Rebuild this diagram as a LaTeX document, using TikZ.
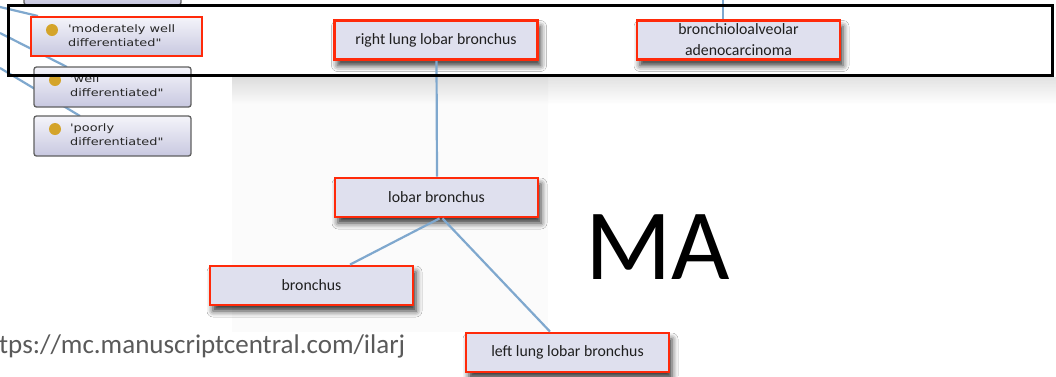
\documentclass[tikz,border=0pt]{standalone}
\usepackage{fontspec}
\setmainfont{Carlito}
\newfontfamily\lgfont[FakeStretch=1.25]{DejaVu Sans}
\usetikzlibrary{shadows.blur}
\definecolor{redc}{HTML}{FF2A0A}
\definecolor{boxc}{HTML}{DFE0EE}
\definecolor{linec}{HTML}{7FA8CE}
\definecolor{goldc}{HTML}{D4A42A}
\definecolor{urlc}{HTML}{5A5A5A}
\definecolor{lbtop}{HTML}{F4F4FA}
\definecolor{lbbot}{HTML}{C8C8E0}
\tikzset{
  x=1pt,y=-1pt,
  redbox/.style={draw=redc, line width=2.8pt, fill=boxc, rectangle, inner sep=0pt,
    minimum width=203pt, minimum height=39pt, align=center,
    font=\fontsize{15.8}{21}\selectfont, text=black!88,
    blur shadow={shadow xshift=3pt, shadow yshift=-6pt, shadow blur radius=6pt, shadow opacity=80}},
  leftbox/.style={draw=gray!75!black, line width=1.3pt, rounded corners=2.5pt,
    top color=lbtop, bottom color=lbbot, rectangle, inner sep=0pt,
    minimum width=157pt, minimum height=40pt},
  leftred/.style={draw=redc, line width=2.8pt, top color=lbtop, bottom color=lbbot,
    rectangle, inner sep=0pt, minimum width=171pt, minimum height=39pt},
  conn/.style={draw=linec, line width=2.2pt},
  ltext/.style={anchor=north west, inner sep=0pt, align=left, text=black!85,
    font=\lgfont\fontsize{10.3}{14}\selectfont},
  dot/.style={circle, fill=goldc, inner sep=0pt, minimum size=12pt}
}
\begin{document}
\begin{tikzpicture}
\useasboundingbox (0,0) rectangle (1056,376);
\clip (0,0) rectangle (1056,376);
\fill[white] (0,0) rectangle (1056,376);
% light background panel and shadow strip
\fill[gray!3] (232,78) rectangle (548,332);
\shade[top color=gray!28, bottom color=white, opacity=0.8] (232,77) rectangle (1056,104);
\shade[top color=gray!28, bottom color=gray!3, opacity=0.8] (232,77) rectangle (548,104);

% left nodes
\node[leftbox] (topbox) at (102.5,-15) {};
\coordinate (l1) at (0,7);
\coordinate (l2) at (0,33);
\coordinate (l3) at (0,68);
\coordinate (m1) at (38,16);
\coordinate (m2) at (67,67);
\coordinate (m3) at (80,116);
\draw[conn] (l1) -- (m1);
\draw[conn] (l2) -- (m2);
\draw[conn] (l3) -- (m3);
\node[leftred] (mod) at (116.5,36.5) {};
\node[leftbox] (well) at (112.5,87) {};
\node[leftbox] (poor) at (112.5,136) {};
\node[dot] (d1) at (52,30) {};
\node[dot] (d2) at (55,80) {};
\node[dot] (d3) at (55,129) {};
\node[ltext] (t1) at (68,24) {'moderately well\\differentiated"};
\node[ltext] (t2) at (70,74) {'well\\differentiated"};
\node[ltext] (t3) at (70,123) {'poorly\\differentiated"};

% main nodes
\node[redbox] (rlb) at (436,40) {right lung lobar bronchus};
\node[redbox] (bac) at (738.5,40) {bronchioloalveolar\\adenocarcinoma};
\node[redbox] (lb) at (436.5,197.5) {lobar bronchus};
\node[redbox] (br) at (311.5,285.5) {bronchus};
\node[redbox] (llb) at (567.5,352.5) {left lung lobar bronchus};

% connectors
\coordinate (bactop) at (723,-2);
\draw[conn] (bactop) -- (bactop |- bac.north);
\draw[conn] ([xshift=0.5pt]rlb.south) -- ([xshift=0.5pt]lb.north);
\draw[conn] ([xshift=3pt]lb.south) -- ([xshift=38.5pt]br.north);
\draw[conn] ([xshift=6pt]lb.south) -- ([xshift=-17.5pt]llb.north);

% big label and url
\node[anchor=base west, inner sep=0pt, font=\fontsize{101}{101}\selectfont] (ma) at (585,279) {MA};
\node[anchor=base west, inner sep=0pt, text=urlc, font=\fontsize{27}{27}\selectfont] (url) at (-1,353) {tps://mc.manuscriptcentral.com/ilarj};

% black frame
\draw[black, line width=3pt] (8,5) rectangle (1052,75);
\end{tikzpicture}
\end{document}
